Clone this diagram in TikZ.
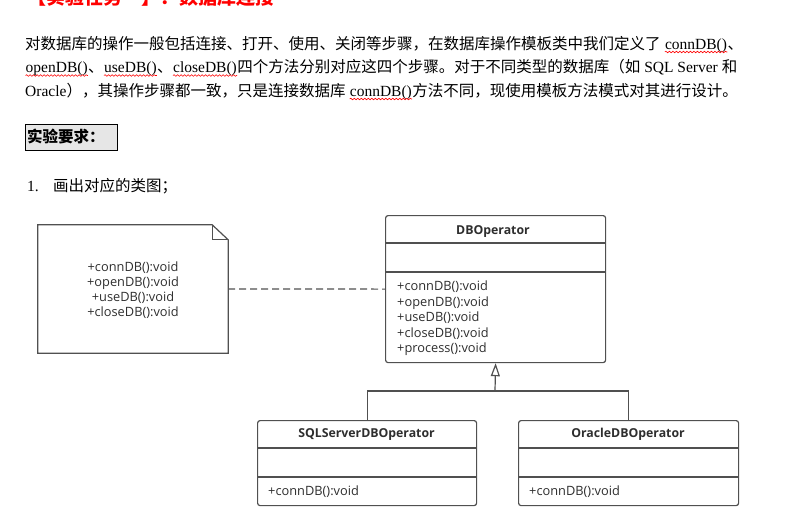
\documentclass[tikz,border=0pt]{standalone}
\usepackage{fontspec}
\setmainfont{Liberation Serif}
\newfontfamily\cjk{Noto Sans CJK SC}
\newfontfamily\umlfont{Open Sans}
\usetikzlibrary{arrows.meta,positioning,decorations.pathmorphing}
\definecolor{umlline}{HTML}{505050}
\definecolor{umltext}{HTML}{2E2E2E}
\definecolor{reqgray}{HTML}{E6E6E6}
\newcommand\rwave[1]{\tikz[baseline=(w.base)]{\node[inner sep=0,anchor=base] (w) at (0,0) {#1};
  \draw[red,line width=0.6pt,decorate,decoration={snake,segment length=3.5pt,amplitude=0.8pt}]
    ([yshift=-3pt]w.base west) -- ([yshift=-3pt]w.base east);}}
\newcommand\zh[1]{{\cjk #1}}
\tikzset{
  bodytext/.style={anchor=base west,inner sep=0,font=\fontsize{15.5}{20}\selectfont},
  umlbox/.style={draw=umlline,line width=1.2pt,rounded corners=2.5pt,fill=white,inner sep=0,anchor=north west},
  umltitle/.style={anchor=base,inner sep=0,text=umltext,font=\umlfont\bfseries\fontsize{12.3}{14}\selectfont},
  umlop/.style={anchor=base west,inner sep=0,text=umltext,font=\umlfont\fontsize{12.8}{14}\selectfont},
  umldiv/.style={draw=umlline,line width=1.2pt}
}
\begin{document}
\begin{tikzpicture}[x=1pt,y=-1pt]
  \useasboundingbox (0,0) rectangle (808,520);
  \clip (0,0) rectangle (808,520);

  % task text
  \node[anchor=base west,inner sep=0,text=red,font=\cjk\bfseries\fontsize{19}{19}\selectfont] (title) at (27,4) {【实验任务一】：数据库连接};
  \node[bodytext] (line1) at (25,49) {\zh{对数据库的操作一般包括连接、打开、使用、关闭等步骤，在数据库操作模板类中我们定义了} \rwave{connDB()}\zh{、}};
  \node[bodytext] (line2) at (25,72.5) {\rwave{openDB()}\zh{、}\rwave{useDB()}\zh{、}\rwave{closeDB()}\zh{四个方法分别对应这四个步骤。对于不同类型的数据库（如} SQL Server \zh{和}};
  \node[bodytext] (line3) at (25,96) {Oracle\zh{），其操作步骤都一致，只是连接数据库} \rwave{connDB()}\zh{方法不同，现使用模板方法模式对其进行设计。}};
  \node[draw=black,fill=reqgray,anchor=north west,minimum width=92pt,minimum height=25.5pt,
        inner xsep=2pt,inner ysep=0,text width=88pt,font=\cjk\bfseries\fontsize{15.5}{18}\selectfont] (req) at (25,124) {实验要求：};
  \node[bodytext] (item) at (27,191) {\makebox[26pt][l]{1.}\zh{画出对应的类图；}};

  % note
  \node[minimum width=190pt,minimum height=128pt,inner sep=0] (note) at (133,289) {};
  \draw[umldiv] (note.north west) -- ([xshift=-16pt]note.north east) -- ([yshift=-15pt]note.north east)
    -- (note.south east) -- (note.south west) -- cycle;
  \draw[umldiv] ([xshift=-16pt]note.north east) -- ([xshift=-16pt,yshift=-15pt]note.north east) -- ([yshift=-15pt]note.north east);
  \foreach \m [count=\i from 0] in {connDB,openDB,useDB,closeDB}
    \node[umlop,anchor=base] (note-op\i) at (133,271+15*\i) {+\m():void};

  % classes
  \node[umlbox,minimum width=220pt,minimum height=147pt] (dbo) at (385,215) {};
  \draw[umldiv] (385,243) -- (605,243) (385,272) -- (605,272);
  \node[umltitle] (dbo-name) at (493,234) {DBOperator};
  \foreach \m [count=\i from 0] in {connDB,openDB,useDB,closeDB,process}
    \node[umlop] (dbo-op\i) at (397,290.5+15.5*\i) {+\m():void};

  \node[umlbox,minimum width=219pt,minimum height=85pt] (sql) at (257,420) {};
  \draw[umldiv] (257,448) -- (476,448) (257,477) -- (476,477);
  \node[umltitle] (sql-name) at (366.5,437.5) {SQLServerDBOperator};
  \node[umlop] (sql-op0) at (268,495) {+connDB():void};

  \node[umlbox,minimum width=220pt,minimum height=85pt] (ora) at (518,420) {};
  \draw[umldiv] (518,448) -- (738,448) (518,477) -- (738,477);
  \node[umltitle] (ora-name) at (628,437.5) {OracleDBOperator};
  \node[umlop] (ora-op0) at (529,495) {+connDB():void};

  % connectors
  \draw[umldiv,dash pattern=on 7pt off 4pt] (note.east) -- (dbo.west);
  \coordinate (split) at (495,391);
  \draw[umldiv] (sql.north) |- (split) -| (ora.north);
  \draw[umldiv,-{Triangle[open,width=9pt,length=13pt,fill=white]}] (split) -- (dbo.south);
\end{tikzpicture}
\end{document}
